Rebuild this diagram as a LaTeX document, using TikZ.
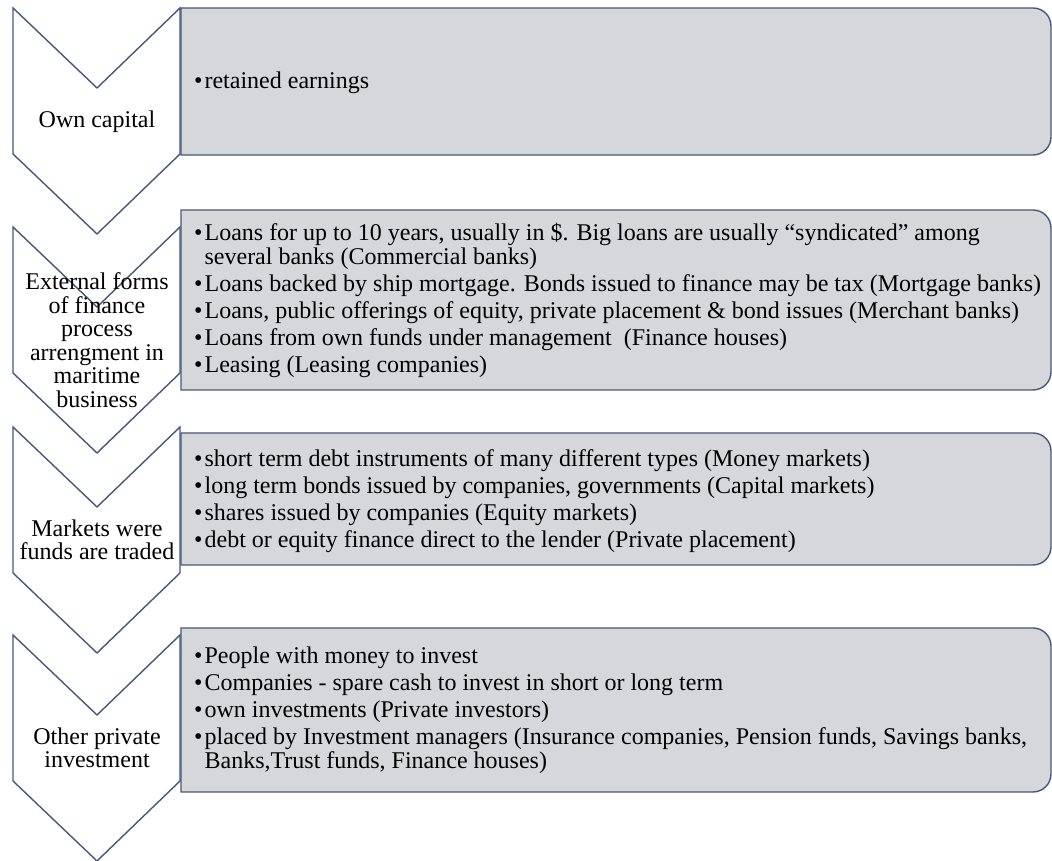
\documentclass[tikz,border=0pt]{standalone}
\usepackage{fontspec}
\setmainfont{Liberation Serif}
\definecolor{edge}{HTML}{46587A}
\definecolor{boxfill}{HTML}{D5D7DA}
\newcommand{\bul}{\textbullet\kern2pt}
\newcommand{\hang}{\hphantom{\textbullet\kern2pt}}
\begin{document}
\begin{tikzpicture}[x=1pt,y=1pt,
  chev/.style={draw=edge,line width=1.4pt,fill=white,line join=miter},
  panel/.style={draw=edge,line width=1.4pt,fill=boxfill},
  lbl/.style={align=center,inner sep=0pt,font=\fontsize{24}{23.5}\selectfont},
  items/.style={align=left,inner sep=0pt,anchor=west,font=\fontsize{24}{24}\selectfont}]
\useasboundingbox (0,0) rectangle (1052,861);
% chevrons
\foreach \t in {853,634,434,226}{
  \draw[chev] (13,\t) -- ++(84,-80) -- ++(83,80) -- ++(0,-146) -- ++(-83,-80) -- ++(-84,80) -- cycle;
}
% panels (rounded on the right)
\draw[panel] (181,853) -- (1033,853) arc[start angle=90,end angle=0,radius=18pt] -- (1051,724) arc[start angle=0,end angle=-90,radius=18pt] -- (181,706) -- cycle;
\draw[panel] (181,651) -- (1033,651) arc[start angle=90,end angle=0,radius=18pt] -- (1051,489) arc[start angle=0,end angle=-90,radius=18pt] -- (181,471) -- cycle;
\draw[panel] (181,428) -- (1033,428) arc[start angle=90,end angle=0,radius=18pt] -- (1051,314) arc[start angle=0,end angle=-90,radius=18pt] -- (181,296) -- cycle;
\draw[panel] (181,233) -- (1033,233) arc[start angle=90,end angle=0,radius=18pt] -- (1051,87) arc[start angle=0,end angle=-90,radius=18pt] -- (181,69) -- cycle;
% chevron labels
\node[lbl] (l1) at (97,739) {Own capital};
\node[lbl] (l2) at (97,521) {External forms\\of finance\\process\\arrengment in\\maritime\\business};
\node[lbl] (l3) at (97,321) {Markets were\\funds are traded};
\node[lbl] (l4) at (97,113) {Other private\\investment};
% panel texts
\node[items] (t1) at (194,778) {\bul retained earnings};
\node[items] (t2) at (194,561) {\bul Loans for up to 10 years, usually in \$. Big loans are usually “syndicated” among\\
\hang several banks (Commercial banks)\\[3pt]
\bul Loans backed by ship mortgage. Bonds issued to finance may be tax (Mortgage banks)\\[3pt]
\bul Loans, public offerings of equity, private placement \& bond issues (Merchant banks)\\[3pt]
\bul Loans from own funds under management \ (Finance houses)\\[3pt]
\bul Leasing (Leasing companies)};
\node[items] (t3) at (194,360) {\bul short term debt instruments of many different types (Money markets)\\[3pt]
\bul long term bonds issued by companies, governments (Capital markets)\\[3pt]
\bul shares issued by companies (Equity markets)\\[3pt]
\bul debt or equity finance direct to the lender (Private placement)};
\node[items] (t4) at (194,151) {\bul People with money to invest\\[3pt]
\bul Companies - spare cash to invest in short or long term\\[3pt]
\bul own investments (Private investors)\\[3pt]
\bul placed by Investment managers (Insurance companies, Pension funds, Savings banks,\\
\hang Banks,Trust funds, Finance houses)};
\end{tikzpicture}
\end{document}
